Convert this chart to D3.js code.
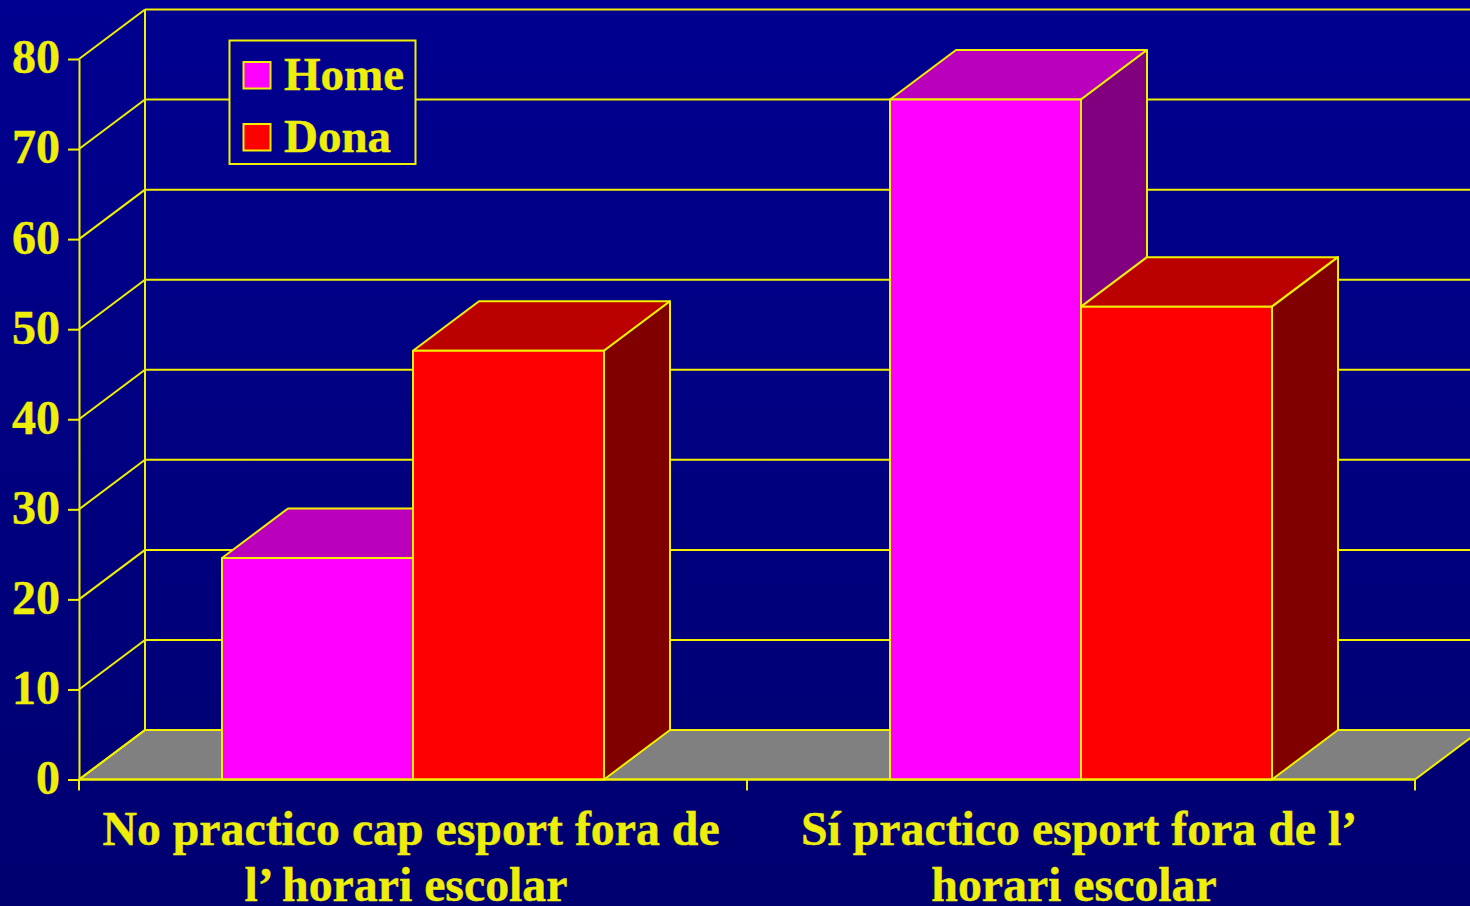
<!DOCTYPE html>
<html>
<head>
<meta charset="utf-8">
<title>Esport fora de l'horari escolar</title>
<script src="https://d3js.org/d3.v7.min.js"></script>
<style>
  html, body { margin: 0; padding: 0; background: #000080; overflow: hidden; }
  text { font-family: "Liberation Serif", serif; font-weight: bold; fill: #eeee0a; stroke: #eeee0a; stroke-width: 0.4px; }
</style>
</head>
<body>
<svg id="chart" width="1470" height="906"></svg>
<script>
var categories = ["No practico cap esport fora de l\u2019 horari escolar", "S\u00ed practico esport fora de l\u2019 horari escolar"];
var categoryLines = [["No practico cap esport fora de", "l\u2019 horari escolar"], ["S\u00ed practico esport fora de l\u2019", "horari escolar"]];
var seriesNames = ["Home", "Dona"];
var home = [24.6, 75.5];
var dona = [47.6, 52.5];
var yTicks = [0, 10, 20, 30, 40, 50, 60, 70, 80];

var frontColors = { Home: "#ff00ff", Dona: "#ff0000" };
var topColors = { Home: "#bb00bb", Dona: "#bb0000" };
var sideColors = { Home: "#800080", Dona: "#800000" };
var lineColor = "#f0f000";

var svg = d3.select("#chart");

// background runs a bit darker towards the bottom
var grad = svg.append("defs").append("linearGradient")
    .attr("id", "bg").attr("x1", 0).attr("y1", 0).attr("x2", 0).attr("y2", 1);
grad.append("stop").attr("offset", "0%").attr("stop-color", "#000090");
grad.append("stop").attr("offset", "100%").attr("stop-color", "#000070");
svg.append("rect").attr("width", 1470).attr("height", 906).attr("fill", "url(#bg)");

// depth of the 3d box
var dx = 66, dy = -49.5;

var x = d3.scaleBand().domain(categories).range([79, 1415]);
var y = d3.scaleLinear().domain([0, 80]).range([779.5, 59]);
var xs = d3.scaleBand().domain(seriesNames).range([0, x.bandwidth()]).paddingInner(0).paddingOuter(0.7487);

function pts(a) { return a.map(function(p) { return p.join(","); }).join(" "); }

var x0 = x.range()[0], x1 = x.range()[1];

// floor
svg.append("polygon")
    .attr("points", pts([[x0, y(0)], [x0 + dx, y(0) + dy], [x1 + dx, y(0) + dy], [x1, y(0)]]))
    .attr("fill", "#808080").attr("stroke", lineColor).attr("stroke-width", 2);

// back wall + side wall grid
var grid = svg.append("g").attr("stroke", lineColor).attr("stroke-width", 2).attr("fill", "none");
grid.selectAll(".back").data(yTicks).enter().append("line")
    .attr("x1", x0 + dx).attr("x2", x1 + dx)
    .attr("y1", function(d) { return y(d) + dy; })
    .attr("y2", function(d) { return y(d) + dy; });
grid.selectAll(".wall").data(yTicks).enter().append("line")
    .attr("x1", x0).attr("x2", x0 + dx)
    .attr("y1", function(d) { return y(d); })
    .attr("y2", function(d) { return y(d) + dy; });
grid.append("line").attr("x1", x0 + dx).attr("x2", x0 + dx).attr("y1", y(80) + dy).attr("y2", y(0) + dy);

// bars, drawn left to right so the later ones cover the earlier ones
var rows = [];
categories.forEach(function(c, i) {
  rows.push({ cat: c, name: "Home", value: home[i] });
  rows.push({ cat: c, name: "Dona", value: dona[i] });
});

var bar = svg.selectAll(".bar").data(rows).enter().append("g")
    .attr("class", "bar")
    .attr("stroke", lineColor).attr("stroke-width", 2).attr("stroke-linejoin", "round");

bar.append("polygon").attr("fill", function(d) { return topColors[d.name]; })
    .attr("points", function(d) {
      var l = x(d.cat) + xs(d.name), r = l + xs.bandwidth(), t = y(d.value);
      return pts([[l, t], [l + dx, t + dy], [r + dx, t + dy], [r, t]]);
    });
bar.append("polygon").attr("fill", function(d) { return sideColors[d.name]; })
    .attr("points", function(d) {
      var r = x(d.cat) + xs(d.name) + xs.bandwidth(), t = y(d.value);
      return pts([[r, t], [r + dx, t + dy], [r + dx, y(0) + dy], [r, y(0)]]);
    });
bar.append("rect").attr("fill", function(d) { return frontColors[d.name]; })
    .attr("x", function(d) { return x(d.cat) + xs(d.name); })
    .attr("y", function(d) { return y(d.value); })
    .attr("width", xs.bandwidth())
    .attr("height", function(d) { return y(0) - y(d.value); });

// axes
var yAxis = svg.append("g").attr("transform", "translate(" + x0 + ",0)")
    .call(d3.axisLeft(y).tickValues(yTicks).tickSize(11).tickSizeOuter(0).tickPadding(8));
yAxis.select(".domain").attr("stroke", lineColor).attr("stroke-width", 2);
yAxis.selectAll("line").attr("stroke", lineColor).attr("stroke-width", 2);
yAxis.selectAll("text").attr("fill", null).style("font-size", "48px")
    .style("font-family", "'Liberation Serif', serif").attr("dy", "0.29em");

var base = svg.append("g").attr("stroke", lineColor).attr("stroke-width", 2);
base.append("line").attr("x1", x0).attr("x2", x1).attr("y1", y(0)).attr("y2", y(0));
base.selectAll(".tick").data([x0, x0 + x.step(), x1]).enter().append("line")
    .attr("x1", function(d) { return d; }).attr("x2", function(d) { return d; })
    .attr("y1", y(0)).attr("y2", y(0) + 11);

// category labels, second line sits a little to the left
categories.forEach(function(c, i) {
  var t = svg.append("text")
      .attr("text-anchor", "middle")
      .style("font-size", "47.8px");
  categoryLines[i].forEach(function(s, j) {
    t.append("tspan")
        .attr("x", x(c) + x.bandwidth() / 2 - 2 - j * 5)
        .attr("y", 845 + j * 55.5)
        .text(s);
  });
});

// legend
var legend = svg.append("g");
legend.append("rect").attr("x", 229.5).attr("y", 40.5).attr("width", 186).attr("height", 123.5)
    .attr("fill", "#00008c").attr("stroke", lineColor).attr("stroke-width", 2);
seriesNames.forEach(function(n, i) {
  legend.append("rect").attr("x", 243.5).attr("y", 62 + i * 62).attr("width", 27).attr("height", 26.5)
      .attr("fill", frontColors[n]).attr("stroke", lineColor).attr("stroke-width", 2);
  legend.append("text").attr("x", 284).attr("y", 89.5 + i * 62).style("font-size", "47px").text(n);
});
</script>
</body>
</html>
